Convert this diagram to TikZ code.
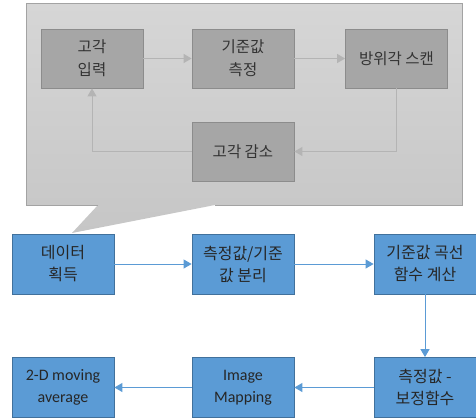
\documentclass[tikz,border=0pt]{standalone}
\usepackage{fontspec}
\setmainfont{Carlito}
\newfontfamily\kr{Noto Sans CJK KR}
\usetikzlibrary{arrows.meta}
\definecolor{bluefill}{HTML}{5B9BD5}
\definecolor{blueline}{HTML}{41719C}
\definecolor{greyfill}{HTML}{A6A6A6}
\definecolor{greyline}{HTML}{8C8C8C}
\definecolor{calloutA}{HTML}{D6D6D6}
\definecolor{calloutB}{HTML}{C6C6C6}
\definecolor{greyarrow}{HTML}{B4B4B4}
\tikzset{
  bluebox/.style={draw=blueline, fill=bluefill, line width=0.8pt, minimum width=102pt, minimum height=60pt, inner sep=1pt, align=center, font=\fontsize{16}{22}\selectfont, text=black!85},
  greybox/.style={draw=greyline, fill=greyfill, line width=0.8pt, minimum width=102pt, minimum height=59pt, inner sep=1pt, align=center, font=\kr\fontsize{15.5}{23}\selectfont, text=black!80},
  bluearrow/.style={draw=bluefill, line width=1pt, -{Triangle[length=8pt,width=9pt]}},
  greyarrowst/.style={draw=greyarrow, line width=1pt, -{Triangle[length=8pt,width=9pt]}},
}
\begin{document}
\begin{tikzpicture}[x=1pt,y=-1pt]
\useasboundingbox (0,0) rectangle (476,418);
% callout
\shade[top color=calloutA, bottom color=calloutB, draw=none] (26,3) -- (462,3) -- (462,205) -- (215,205) -- (72,233) -- (98,205) -- (26,205) -- cycle;
\draw[draw=greyline!80, line width=0.7pt] (98,205) -- (26,205) -- (26,3) -- (462,3) -- (462,205) -- (215,205);
% grey boxes
\node[greybox] (g1) at (92,58.5) {고각\\입력};
\node[greybox] (g2) at (243,58.5) {기준값\\측정};
\node[greybox] (g3) at (396.5,58.5) {방위각 스캔};
\node[greybox] (g4) at (243,151.5) {고각 감소};
\draw[greyarrowst] (g1) -- (g2);
\draw[greyarrowst] (g2) -- (g3);
\draw[greyarrowst] (g3.south) |- (g4.east);
\draw[greyarrowst] (g4.west) -| (g1.south);
% blue boxes
\node[bluebox] (b1) at (63,264) {\kr 데이터\\\kr 획득};
\node[bluebox] (b2) at (243,264) {\kr 측정값/기준\\\kr 값 분리};
\node[bluebox] (b3) at (425,264) {\kr 기준값 곡선\\\kr 함수 계산};
\node[bluebox] (b4) at (425,387.5) {\kr 측정값 -\\\kr 보정함수};
\node[bluebox] (b5) at (243,387.5) {Image\\Mapping};
\node[bluebox] (b6) at (63,387.5) {2-D moving\\average};
\draw[bluearrow] (b1) -- (b2);
\draw[bluearrow] (b2) -- (b3);
\draw[bluearrow] (b3) -- (b4);
\draw[bluearrow] (b4) -- (b5);
\draw[bluearrow] (b5) -- (b6);
\end{tikzpicture}
\end{document}
